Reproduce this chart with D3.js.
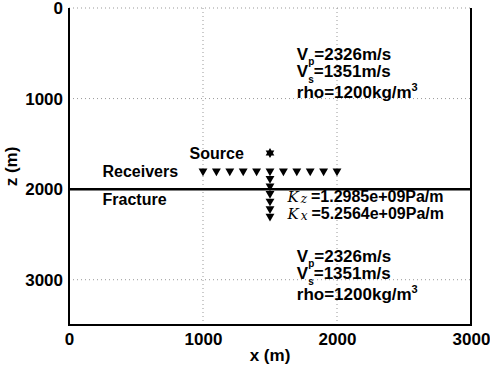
<!DOCTYPE html>
<html>
<head>
<meta charset="utf-8">
<script src="https://cdn.jsdelivr.net/npm/d3@7"></script>
<style>
  body { margin: 0; background: #fff; }
  svg { display: block; font-family: 'Liberation Sans', Arial, Helvetica, sans-serif; font-weight: bold; }
  .grid line { stroke: #999; stroke-dasharray: 1, 3; }
</style>
</head>
<body>
<svg id="chart" width="490" height="370"></svg>
<script>
// Axis ticks (m)
const xTicks = [0, 1000, 2000, 3000];
const zTicks = [0, 1000, 2000, 3000];

// Horizontal receiver line at z = 1800
const receiverX = [1000, 1100, 1200, 1300, 1400, 1500, 1600, 1700, 1800, 1900, 2000];
const receiverZ = 1800;

// Vertical receivers below the source
const wellX = 1500;
const wellZ = [1883, 1967, 2050, 2133, 2217, 2300];

// Source and fracture
const sourcePos = [1500, 1600];
const fractureZ = 2000;

// Layer properties
const vp = 2326, vs = 1351, rho = 1200;
const kz = '1.2985e+09', kx = '5.2564e+09';

const svg = d3.select('#chart');
const margin = { left: 69, right: 19, top: 8, bottom: 45 };
const width = 490 - margin.left - margin.right;
const height = 370 - margin.top - margin.bottom;

const x = d3.scaleLinear().domain([0, 3000]).range([margin.left, margin.left + width]);
const z = d3.scaleLinear().domain([0, 3500]).range([margin.top, margin.top + height]);

// Dotted grid
const grid = svg.append('g').attr('class', 'grid');
grid.selectAll('.gx')
  .data(xTicks.slice(1, -1))
  .enter().append('line')
  .attr('x1', d => x(d)).attr('x2', d => x(d))
  .attr('y1', z(0)).attr('y2', z(3500));
grid.selectAll('.gz')
  .data(zTicks)
  .enter().append('line')
  .attr('x1', x(0)).attr('x2', x(3000))
  .attr('y1', d => z(d)).attr('y2', d => z(d));

// Axes
const xAxis = svg.append('g')
  .attr('transform', `translate(0,${z(3500)})`)
  .call(d3.axisBottom(x).tickValues(xTicks).tickSize(0).tickPadding(8).tickFormat(d3.format('d')));
const zAxis = svg.append('g')
  .attr('transform', `translate(${x(0)},0)`)
  .call(d3.axisLeft(z).tickValues(zTicks).tickSize(0).tickPadding(6).tickFormat(d3.format('d')));

[xAxis, zAxis].forEach(a => {
  a.select('.domain').remove();
  a.selectAll('text')
    .attr('fill', '#000')
    .style('font-size', '17px')
    .style('font-family', "'Liberation Sans', Arial, sans-serif")
    .style('font-weight', 'bold');
});

// Box: left, bottom, right (no top)
svg.append('path')
  .attr('d', `M${x(0)},${z(0)}V${z(3500)}H${x(3000)}V${z(0)}`)
  .attr('fill', 'none')
  .attr('stroke', '#000')
  .attr('stroke-width', 2);

// Axis labels
svg.append('text')
  .attr('x', (x(0) + x(3000)) / 2)
  .attr('y', 361)
  .attr('text-anchor', 'middle')
  .style('font-size', '17px')
  .text('x (m)');
svg.append('text')
  .attr('transform', `translate(17,${(z(0) + z(3500)) / 2}) rotate(-90)`)
  .attr('text-anchor', 'middle')
  .style('font-size', '17px')
  .text('z (m)');

// Fracture
svg.append('line')
  .attr('x1', x(0)).attr('x2', x(3000))
  .attr('y1', z(fractureZ)).attr('y2', z(fractureZ))
  .attr('stroke', '#000')
  .attr('stroke-width', 2.5);

// Receivers
const tri = d3.symbol().type(d3.symbolTriangle).size(34);
const receivers = receiverX.map(d => [d, receiverZ]).concat(wellZ.map(d => [wellX, d]));
svg.append('g').selectAll('path')
  .data(receivers)
  .enter().append('path')
  .attr('d', tri)
  .attr('transform', d => `translate(${x(d[0])},${z(d[1])}) rotate(180)`)
  .attr('fill', '#000');

// Source (hexagram)
function hexagram(r) {
  const pts = a => d3.range(3).map(i => {
    const t = a + i * 2 * Math.PI / 3;
    return [r * Math.sin(t), -r * Math.cos(t)];
  });
  const tri1 = pts(0), tri2 = pts(Math.PI);
  return 'M' + tri1.join('L') + 'Z' + 'M' + tri2.join('L') + 'Z';
}
svg.append('path')
  .attr('d', hexagram(5))
  .attr('transform', `translate(${x(sourcePos[0])},${z(sourcePos[1])})`)
  .attr('fill', '#000');

// Labels
function label(px, py, txt) {
  return svg.append('text').attr('x', px).attr('y', py).style('font-size', '16px').text(txt);
}
label(x(250), 177, 'Receivers');
label(x(250), 205, 'Fracture');
label(x(900), 159, 'Source');

function layerBlock(px, y0) {
  const t1 = svg.append('text').attr('x', px).attr('y', y0).style('font-size', '17px');
  t1.append('tspan').text('V');
  t1.append('tspan').attr('dy', 5).style('font-size', '10px').text('p');
  t1.append('tspan').attr('dy', -5).text(`=${vp}m/s`);
  const t2 = svg.append('text').attr('x', px).attr('y', y0 + 17).style('font-size', '17px');
  t2.append('tspan').text('V');
  t2.append('tspan').attr('dy', 6).style('font-size', '10px').text('s');
  t2.append('tspan').attr('dy', -6).text(`=${vs}m/s`);
  const t3 = svg.append('text').attr('x', px).attr('y', y0 + 38).style('font-size', '17px');
  t3.append('tspan').text(`rho=${rho}kg/m`);
  t3.append('tspan').attr('dy', -7).style('font-size', '11px').text('3');
}
layerBlock(x(1700), 60);
layerBlock(x(1700), 262);

function stiffness(px, py, sub, val) {
  const t = svg.append('text').attr('x', px).attr('y', py).style('font-size', '16px');
  t.append('tspan')
    .style('font-family', "'DejaVu Serif', serif").style('font-style', 'italic').style('font-weight', 'normal')
    .style('font-size', '15px').text('K');
  t.append('tspan').attr('dy', 1).attr('dx', 2)
    .style('font-family', "'DejaVu Serif', serif").style('font-style', 'italic').style('font-weight', 'normal')
    .style('font-size', '12px').text(sub);
  t.append('tspan').attr('dy', -1).attr('dx', 4).text(`=${val}Pa/m`);
}
stiffness(x(1630), 202, 'z', kz);
stiffness(x(1630), 219, 'x', kx);
</script>
</body>
</html>
